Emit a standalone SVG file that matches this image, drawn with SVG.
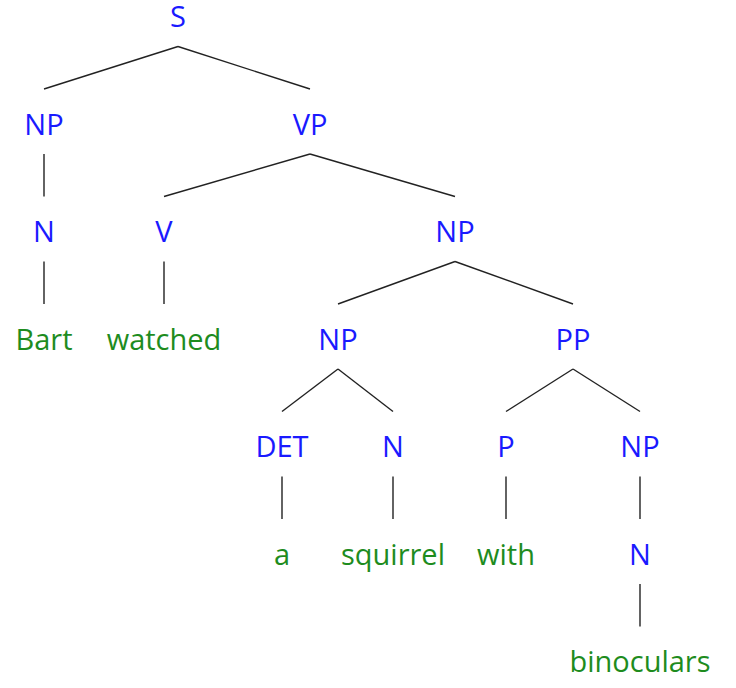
<svg xmlns="http://www.w3.org/2000/svg" width="736" height="688" viewBox="0 0 736 688">
<style>
text{font-family:"Open Sans","Noto Sans","DejaVu Sans",sans-serif;font-size:29px;text-anchor:middle}
.c{fill:#1a1aff}
.w{fill:#1e8c1e}
#edges line{stroke:#222;stroke-width:1.4}
</style>
<rect width="736" height="688" fill="#fff"/>
<g id="edges">
<line x1="178" y1="46.5" x2="44" y2="89"/>
<line x1="178" y1="46.5" x2="310" y2="89"/>
<line x1="44" y1="154" x2="44" y2="196.5"/>
<line x1="310" y1="154" x2="164" y2="196.5"/>
<line x1="310" y1="154" x2="455" y2="196.5"/>
<line x1="44" y1="261.5" x2="44" y2="304"/>
<line x1="164" y1="261.5" x2="164" y2="304"/>
<line x1="455" y1="261.5" x2="338" y2="304"/>
<line x1="455" y1="261.5" x2="573" y2="304"/>
<line x1="338" y1="369" x2="282" y2="411.5"/>
<line x1="338" y1="369" x2="393" y2="411.5"/>
<line x1="573" y1="369" x2="506" y2="411.5"/>
<line x1="573" y1="369" x2="640" y2="411.5"/>
<line x1="282" y1="476.5" x2="282" y2="519"/>
<line x1="393" y1="476.5" x2="393" y2="519"/>
<line x1="506" y1="476.5" x2="506" y2="519"/>
<line x1="640" y1="476.5" x2="640" y2="519"/>
<line x1="640" y1="584" x2="640" y2="626.5"/>
</g>
<g id="n-S"><text class="c" x="178" y="27">S</text></g>
<g id="n-NP1"><text class="c" x="44" y="134.5">NP</text></g>
<g id="n-VP"><text class="c" x="310" y="134.5">VP</text></g>
<g id="n-N1"><text class="c" x="44" y="242">N</text></g>
<g id="n-V"><text class="c" x="164" y="242">V</text></g>
<g id="n-NP2"><text class="c" x="455" y="242">NP</text></g>
<g id="n-Bart"><text class="w" x="44" y="349.5">Bart</text></g>
<g id="n-watched"><text class="w" x="164" y="349.5">watched</text></g>
<g id="n-NP3"><text class="c" x="338" y="349.5">NP</text></g>
<g id="n-PP"><text class="c" x="573" y="349.5">PP</text></g>
<g id="n-DET"><text class="c" x="282" y="457">DET</text></g>
<g id="n-N2"><text class="c" x="393" y="457">N</text></g>
<g id="n-P"><text class="c" x="506" y="457">P</text></g>
<g id="n-NP4"><text class="c" x="640" y="457">NP</text></g>
<g id="n-a"><text class="w" x="282" y="564.5">a</text></g>
<g id="n-squirrel"><text class="w" x="393" y="564.5">squirrel</text></g>
<g id="n-with"><text class="w" x="506" y="564.5">with</text></g>
<g id="n-N3"><text class="c" x="640" y="564.5">N</text></g>
<g id="n-binoculars"><text class="w" x="640" y="672">binoculars</text></g>
</svg>
